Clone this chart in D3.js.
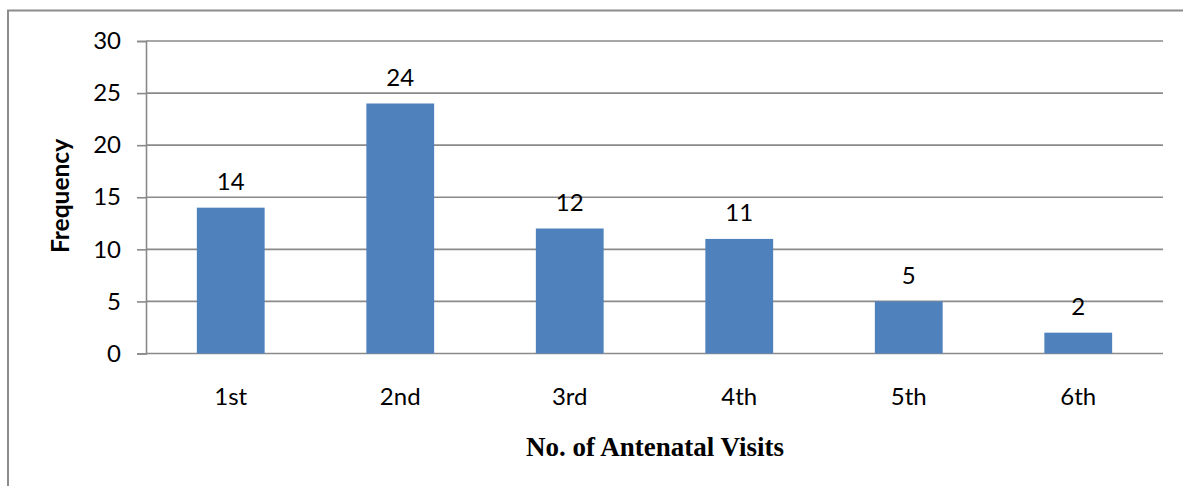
<!DOCTYPE html>
<html>
<head>
<meta charset="utf-8">
<script src="https://cdn.jsdelivr.net/npm/d3@7"></script>
<style>
  html, body { margin: 0; padding: 0; background: #fff; }
  svg { display: block; }
</style>
</head>
<body>
<svg id="chart" width="1183" height="486"></svg>
<script>
// Antenatal visit counts
const categories = ["1st", "2nd", "3rd", "4th", "5th", "6th"];
const frequencies = [14, 24, 12, 11, 5, 2];
const yTicks = [0, 5, 10, 15, 20, 25, 30];

const W = 1183, H = 486;
const margin = { left: 146, top: 41 };
const plotRight = 1163, plotBottom = 353.5;

const svg = d3.select("#chart");
const labelFont = "Lato, 'Open Sans', sans-serif";
const labelSize = 24;

// outer frame (top and left edges visible)
svg.append("path")
  .attr("d", `M8,${H + 2} L8,10.5 L${W + 2},10.5`)
  .attr("fill", "none")
  .attr("stroke", "#8c8c8c")
  .attr("stroke-width", 2);

const x = d3.scaleBand()
  .domain(categories)
  .range([margin.left, plotRight])
  .paddingInner(0.6)
  .paddingOuter(0.3);

const y = d3.scaleLinear()
  .domain([0, 30])
  .range([plotBottom, margin.top]);

// horizontal gridlines
svg.append("g")
  .selectAll("line")
  .data(yTicks)
  .join("line")
  .attr("x1", margin.left)
  .attr("x2", plotRight)
  .attr("y1", d => y(d))
  .attr("y2", d => y(d))
  .attr("stroke", "#8a8a8a")
  .attr("stroke-width", 1.6);

// y axis
const yAxis = svg.append("g")
  .attr("transform", `translate(${margin.left},0)`)
  .call(d3.axisLeft(y).tickValues(yTicks).tickSize(9).tickPadding(16));
yAxis.select(".domain").attr("stroke", "#8a8a8a").attr("stroke-width", 1.6);
yAxis.selectAll(".tick line").attr("stroke", "#8a8a8a").attr("stroke-width", 1.6);
yAxis.selectAll(".tick text")
  .attr("font-family", labelFont)
  .attr("font-size", labelSize)
  .attr("fill", "#000");

// bars
svg.append("g")
  .selectAll("rect")
  .data(frequencies)
  .join("rect")
  .attr("x", (d, i) => x(categories[i]))
  .attr("width", x.bandwidth())
  .attr("y", d => y(d))
  .attr("height", d => y(0) - y(d))
  .attr("fill", "#4f81bd");

// value labels
svg.append("g")
  .selectAll("text")
  .data(frequencies)
  .join("text")
  .attr("x", (d, i) => x(categories[i]) + x.bandwidth() / 2)
  .attr("y", d => y(d) - 17.5)
  .attr("text-anchor", "middle")
  .attr("font-family", labelFont)
  .attr("font-size", labelSize)
  .attr("fill", "#000")
  .text(d => d);

// category labels
svg.append("g")
  .selectAll("text")
  .data(categories)
  .join("text")
  .attr("x", d => x(d) + x.bandwidth() / 2)
  .attr("y", 405)
  .attr("text-anchor", "middle")
  .attr("font-family", labelFont)
  .attr("font-size", labelSize)
  .attr("fill", "#000")
  .text(d => d);

// axis titles
svg.append("text")
  .attr("transform", "translate(69,196) rotate(-90)")
  .attr("text-anchor", "middle")
  .attr("font-family", labelFont)
  .attr("font-weight", "bold")
  .attr("font-size", 24.5)
  .attr("fill", "#000")
  .text("Frequency");

svg.append("text")
  .attr("x", 655)
  .attr("y", 456)
  .attr("text-anchor", "middle")
  .attr("font-family", "'Liberation Serif', 'Times New Roman', serif")
  .attr("font-weight", "bold")
  .attr("font-size", 27)
  .attr("fill", "#000")
  .text("No. of Antenatal Visits");
</script>
</body>
</html>
